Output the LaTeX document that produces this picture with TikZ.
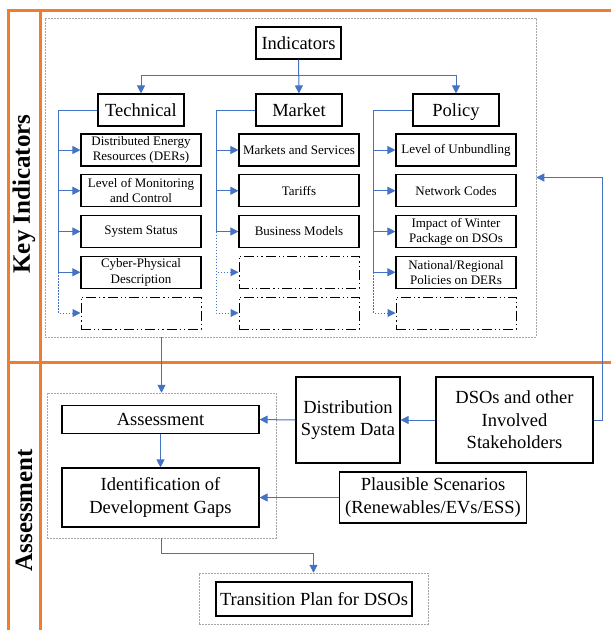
\documentclass[tikz,border=0pt]{standalone}
\usepackage{fontspec}
\setmainfont{Liberation Serif}
\usetikzlibrary{arrows.meta,calc}
\definecolor{frameorange}{HTML}{ED7D31}
\definecolor{linkblue}{HTML}{4472C4}
\newcommand\colorFrame{frameorange}
\newcommand\colorLink{linkblue}
\newcommand\itemTop{150}
\newcommand\itemStep{40.75}
\newcommand\barShift{39}
\newcommand\drawBranch[3]{
	\coordinate (#1bar) at ($(#1.west)+(-\barShift,0)$);
	\foreach \k/\txt in {#3}{
		\node[item] (#1-\k) at (#2,{\itemTop+(\k-1)*\itemStep}) {\txt};
		\draw[link] (#1.west) -- (#1bar) |- (#1-\k.west);
	}
}
\newcommand\drawSpare[4]{
	\foreach \k in {#4}{
		\node[spare] (#1-\k) at (#2,{\itemTop+(\k-1)*\itemStep}) {};
		\draw[dotlink] (#1bar |- #1-#3.west) |- (#1-\k.west);
	}
}
\tikzset{
	box/.style={draw, line width=1.1pt, inner sep=1pt, align=center},
	big/.style={font=\fontsize{18.5}{22.5}\selectfont},
	head/.style={box, big, minimum width=86pt, minimum height=32pt, text height=12.8pt, text depth=0pt},
	item/.style={box, minimum width=120pt, minimum height=32pt, font=\fontsize{13}{15.3}\selectfont},
	spare/.style={item, line width=1pt, dash pattern=on 10pt off 3pt on 1.2pt off 3pt on 1.2pt off 3pt},
	link/.style={draw=\colorLink, line width=1pt, -{Triangle[length=8pt,width=8pt]}},
	dotlink/.style={link, dash pattern=on 1.5pt off 1.5pt},
	frame/.style={draw=\colorFrame, line width=3pt},
	group/.style={draw=gray!70, line width=0.5pt, dash pattern=on 2pt off 1pt, inner sep=0pt},
	sidelabel/.style={rotate=90, font=\bfseries\fontsize{25}{30}\selectfont},
}
\begin{document}
\begin{tikzpicture}[x=1pt, y=-1pt]
	\useasboundingbox (0,0) rectangle (611,630);

	% frame and side labels
	\draw[frame] (8,630) -- (8,10) -- (611,10);
	\draw[frame] (40,10) -- (40,630);
	\draw[frame] (8,362) -- (611,362);
	\node[sidelabel] (kilabel) at (24,194) {Key Indicators};
	\node[sidelabel] (aslabel) at (24,510) {Assessment};

	% key indicators
	\node[group, minimum width=491pt, minimum height=319pt] (kigroup) at (290.5,177.5) {};
	\node[head, minimum width=85pt] (ind) at (298.5,43) {Indicators};
	\node[head] (tech) at (141,110) {Technical};
	\node[head] (mkt) at (299,110) {Market};
	\node[head] (pol) at (456,110) {Policy};
	\coordinate (split) at ($(ind.south)+(0,16)$);
	\draw[link] (ind.south) -- (mkt.north);
	\draw[link] (split) -| (tech.north);
	\draw[link] (split) -| (pol.north);

	\drawBranch{tech}{141}{1/{Distributed Energy\\Resources (DERs)}, 2/{Level of Monitoring\\and Control}, 3/{System Status}, 4/{Cyber-Physical\\Description}}
	\drawSpare{tech}{141}{4}{5}
	\drawBranch{mkt}{299}{1/{Markets and Services}, 2/{Tariffs}, 3/{Business Models}}
	\drawSpare{mkt}{299}{3}{4,5}
	\drawBranch{pol}{456}{1/{Level of Unbundling}, 2/{Network Codes}, 3/{Impact of Winter\\Package on DSOs}, 4/{National/Regional\\Policies on DERs}}
	\drawSpare{pol}{456}{4}{5}

	% assessment
	\node[group, minimum width=229pt, minimum height=145pt] (asgroup) at (161.5,465.5) {};
	\node[box, big, minimum width=197pt, minimum height=28pt] (asmt) at (160.5,419.5) {Assessment};
	\node[box, big, minimum width=197pt, minimum height=59pt] (gaps) at (160.5,497.5) {Identification of\\Development Gaps};
	\node[box, big, minimum width=104pt, minimum height=86pt] (dsd) at (348,420) {Distribution\\System Data};
	\node[box, big, minimum width=157pt, minimum height=86pt] (dso) at (514.5,420) {DSOs and other\\Involved\\Stakeholders};
	\node[box, big, minimum width=187pt, minimum height=51pt] (scen) at (433,497.5) {Plausible Scenarios\\(Renewables/EVs/ESS)};
	\node[group, minimum width=229pt, minimum height=51pt] (trgroup) at (313.5,598.5) {};
	\node[box, big, minimum width=196pt, minimum height=34pt] (trans) at (314,599) {Transition Plan for DSOs};

	\draw[link] (kigroup.south -| asgroup.north) -- (asgroup.north);
	\draw[link] (asmt) -- (gaps);
	\draw[link] (dsd.west) -- (asmt.east);
	\draw[link] (dso.west) -- (dsd.east);
	\draw[link] (scen.west) -- (gaps.east);
	\draw[link] (dso.east) -- ++(9,0) |- (kigroup.east);
	\draw[link] (asgroup.south) -- ++(0,15) -| (trgroup.north);
\end{tikzpicture}
\end{document}
